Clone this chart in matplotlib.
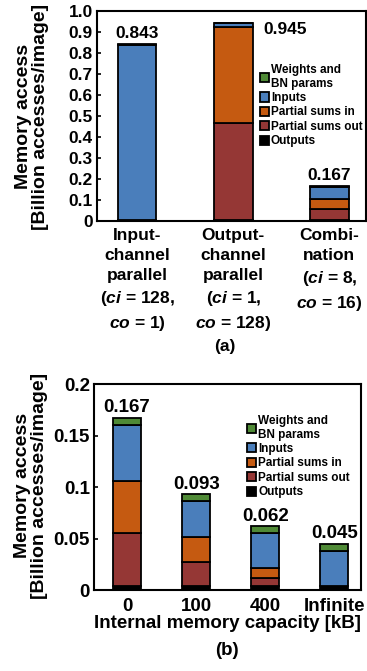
import matplotlib
matplotlib.use("Agg")
import matplotlib.pyplot as plt
import numpy as np

plt.rcParams['font.family'] = ['Liberation Sans', 'DejaVu Sans']
plt.rcParams['font.weight'] = 'bold'
plt.rcParams['axes.labelweight'] = 'bold'
plt.rcParams['mathtext.fontset'] = 'custom'
plt.rcParams['mathtext.rm'] = 'Liberation Sans:bold'
plt.rcParams['mathtext.it'] = 'Liberation Sans:bold:italic'

#----------------------- data ------------------------#
series = ["Outputs", "Partial sums out", "Partial sums in", "Inputs", "Weights and\nBN params"]
colors = ["#000000", "#953735", "#c55a11", "#4a7ebb", "#4f8a36"]

# (a) parallelism
cats_a = ["Input-\nchannel\nparallel\n($\\mathit{ci}$ = 128,\n$\\mathit{co}$ = 1)",
          "Output-\nchannel\nparallel\n($\\mathit{ci}$ = 1,\n$\\mathit{co}$ = 128)",
          "Combi-\nnation\n($\\mathit{ci}$ = 8,\n$\\mathit{co}$ = 16)"]
vals_a = [[0.003, 0.003, 0.004],   # outputs
          [0.0, 0.462, 0.051],     # partial sums out
          [0.0, 0.460, 0.051],     # partial sums in
          [0.836, 0.016, 0.054],   # inputs
          [0.004, 0.004, 0.007]]   # weights
totals_a = ["0.843", "0.945", "0.167"]

# (b) internal memory capacity
cats_b = ["0", "100", "400", "Infinite"]
vals_b = [[0.004, 0.004, 0.004, 0.004],
          [0.051, 0.0235, 0.008, 0.0],
          [0.051, 0.0235, 0.009, 0.0],
          [0.054, 0.035, 0.034, 0.034],
          [0.007, 0.007, 0.007, 0.007]]
totals_b = ["0.167", "0.093", "0.062", "0.045"]

fig = plt.figure(figsize=(3.67, 6.71), dpi=100)
ax1 = fig.add_axes([0.264, 0.6706, 0.733, 0.313])
ax2 = fig.add_axes([0.256, 0.1207, 0.728, 0.307])


def stack(ax, vals, n):
    x = np.arange(n)
    bottom = np.zeros(n)
    handles = []
    for s, c, v in zip(series, colors, vals):
        v = np.array(v)
        h = ax.bar(x, v, 0.4, bottom=bottom, color=c, edgecolor="black",
                   linewidth=1.3, label=s)
        handles.append(h)
        bottom += v
    return x, bottom, handles


for ax in (ax1, ax2):
    for sp in ax.spines.values():
        sp.set_linewidth(1.5)
    ax.tick_params(axis='y', direction='in', length=3, width=1.2, pad=3)
    ax.tick_params(axis='x', length=0, pad=5)

#------------------------ (a) ------------------------#
x, top, hs = stack(ax1, vals_a, 3)
ax1.set_xlim(-0.42, 2.38)
ax1.set_ylim(0, 1.0)
ax1.set_yticks(np.arange(0, 1.01, 0.1))
ax1.set_yticklabels(["0"] + ["%.1f" % t for t in np.arange(0.1, 1.01, 0.1)], fontsize=12.5)
ax1.set_xticks(x)
ax1.set_xticklabels(cats_a, fontsize=12.5, linespacing=1.42, va='top')
ax1.text(0, top[0] + 0.012, totals_a[0], ha='center', va='bottom', fontsize=12.5)
ax1.text(1.31, 0.91, totals_a[1], ha='left', va='center', fontsize=12.5)
ax1.text(2, top[2] + 0.012, totals_a[2], ha='center', va='bottom', fontsize=12.5)
ax1.legend(hs[::-1], series[::-1], loc='upper left', bbox_to_anchor=(0.605, 0.748),
           frameon=False, fontsize=8.5, handlelength=0.8, handleheight=0.8,
           handletextpad=0.15, labelspacing=0.2, borderpad=0, borderaxespad=0)
fig.text(0.087, 0.826, "Memory access\n[Billion accesses/image]", rotation=90,
         ha='center', va='center', fontsize=14, linespacing=1.0)
fig.text(0.613, 0.484, "(a)", ha='center', va='center', fontsize=12.5)

#------------------------ (b) ------------------------#
x, top, hs = stack(ax2, vals_b, 4)
ax2.set_xlim(-0.48, 3.39)
ax2.set_ylim(0, 0.2)
ax2.set_yticks([0, 0.05, 0.1, 0.15, 0.2])
ax2.set_yticklabels(["0", "0.05", "0.1", "0.15", "0.2"], fontsize=13.5)
ax2.set_xticks(x)
ax2.set_xticklabels(cats_b, fontsize=13.5)
ax2.tick_params(axis='x', pad=6)
ax2.set_xlabel("Internal memory capacity [kB]", fontsize=13.5, labelpad=0)
for i in range(4):
    ax2.text(x[i], top[i] + 0.0015, totals_b[i], ha='center', va='bottom', fontsize=13.5)
ax2.legend(hs[::-1], series[::-1], loc='upper left', bbox_to_anchor=(0.573, 0.85),
           frameon=False, fontsize=8.5, handlelength=0.8, handleheight=0.8,
           handletextpad=0.15, labelspacing=0.2, borderpad=0, borderaxespad=0)
fig.text(0.085, 0.276, "Memory access\n[Billion accesses/image]", rotation=90,
         ha='center', va='center', fontsize=14, linespacing=1.0)
fig.text(0.618, 0.031, "(b)", ha='center', va='center', fontsize=13.5)

fig.savefig("out.png", dpi=100)
